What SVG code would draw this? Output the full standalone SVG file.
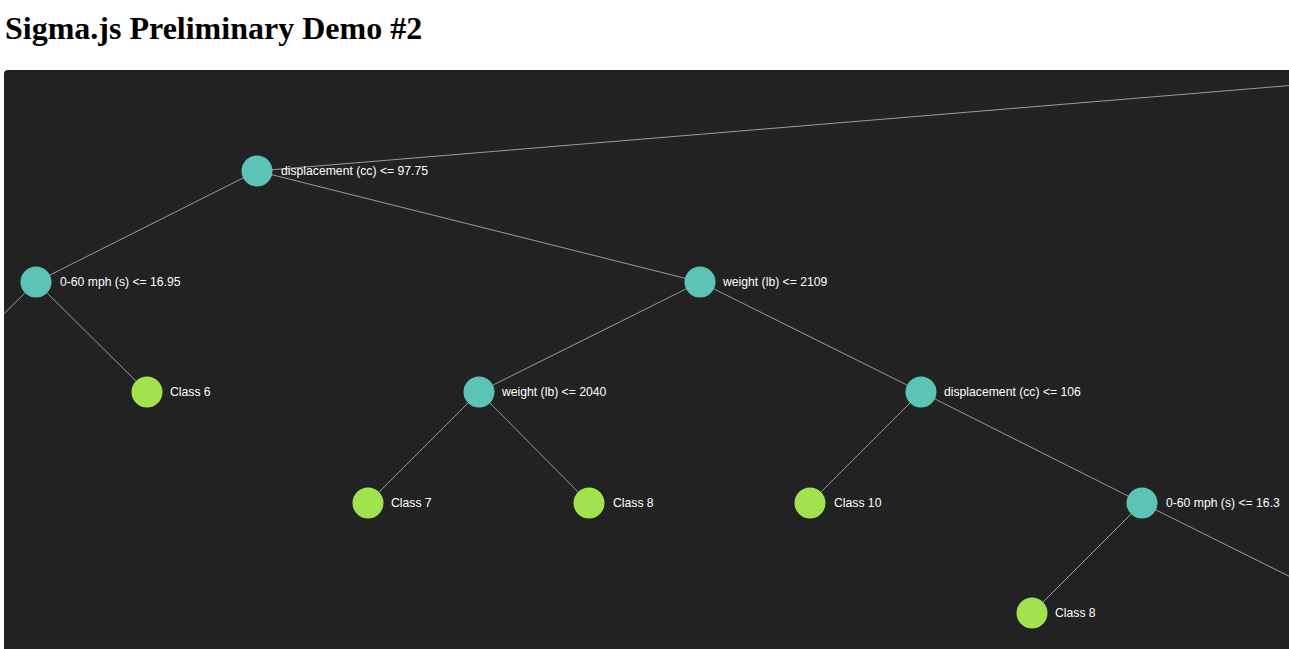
<svg xmlns="http://www.w3.org/2000/svg" width="1289" height="649" viewBox="0 0 1289 649">
<style>
.title{font-family:"Liberation Serif","Times New Roman",serif;font-weight:bold;font-size:32px;fill:#000}
.lbl{font-family:"Liberation Sans",Arial,sans-serif;font-size:12.2px;fill:#fff}
.edge{stroke:#9a9a9a;stroke-width:1;fill:none}
.dec{fill:#5bc4b7}
.leaf{fill:#a0e34e}
</style>
<defs>
<clipPath id="panel"><rect x="4" y="70" width="1300" height="600" rx="4"/></clipPath>
</defs>
<rect width="1289" height="649" fill="#fff"/>
<text class="title" x="5" y="39">Sigma.js Preliminary Demo #2</text>
<rect x="4" y="70" width="1300" height="600" rx="4" fill="#222"/>
<g clip-path="url(#panel)">
<g id="connectors">
<line class="edge" x1="1598" y1="60" x2="257" y2="171"/>
<line class="edge" x1="257" y1="171" x2="36" y2="282"/>
<line class="edge" x1="257" y1="171" x2="700" y2="282"/>
<line class="edge" x1="36" y1="282" x2="-75" y2="392"/>
<line class="edge" x1="36" y1="282" x2="147" y2="392"/>
<line class="edge" x1="700" y1="282" x2="479" y2="392"/>
<line class="edge" x1="700" y1="282" x2="921" y2="392"/>
<line class="edge" x1="479" y1="392" x2="368" y2="503"/>
<line class="edge" x1="479" y1="392" x2="589" y2="503"/>
<line class="edge" x1="921" y1="392" x2="810" y2="503"/>
<line class="edge" x1="921" y1="392" x2="1142" y2="503"/>
<line class="edge" x1="1142" y1="503" x2="1032" y2="613"/>
<line class="edge" x1="1142" y1="503" x2="1363" y2="613"/>
</g>
<g id="n-disp9775"><circle class="dec" cx="257" cy="171" r="15.5"/><text class="lbl" x="281" y="175">displacement (cc) &lt;= 97.75</text></g>
<g id="n-accel1695"><circle class="dec" cx="36" cy="282" r="15.5"/><text class="lbl" x="60" y="286">0-60 mph (s) &lt;= 16.95</text></g>
<g id="n-class6"><circle class="leaf" cx="147" cy="392" r="15.5"/><text class="lbl" x="170" y="396">Class 6</text></g>
<g id="n-weight2109"><circle class="dec" cx="700" cy="282" r="15.5"/><text class="lbl" x="723" y="286">weight (lb) &lt;= 2109</text></g>
<g id="n-weight2040"><circle class="dec" cx="479" cy="392" r="15.5"/><text class="lbl" x="502" y="396">weight (lb) &lt;= 2040</text></g>
<g id="n-disp106"><circle class="dec" cx="921" cy="392" r="15.5"/><text class="lbl" x="944" y="396">displacement (cc) &lt;= 106</text></g>
<g id="n-class7"><circle class="leaf" cx="368" cy="503" r="15.5"/><text class="lbl" x="391" y="507">Class 7</text></g>
<g id="n-class8a"><circle class="leaf" cx="589" cy="503" r="15.5"/><text class="lbl" x="613" y="507">Class 8</text></g>
<g id="n-class10"><circle class="leaf" cx="810" cy="503" r="15.5"/><text class="lbl" x="834" y="507">Class 10</text></g>
<g id="n-accel163"><circle class="dec" cx="1142" cy="503" r="15.5"/><text class="lbl" x="1166" y="507">0-60 mph (s) &lt;= 16.3</text></g>
<g id="n-class8b"><circle class="leaf" cx="1032" cy="613" r="15.5"/><text class="lbl" x="1055" y="617">Class 8</text></g>
</g>
</svg>
